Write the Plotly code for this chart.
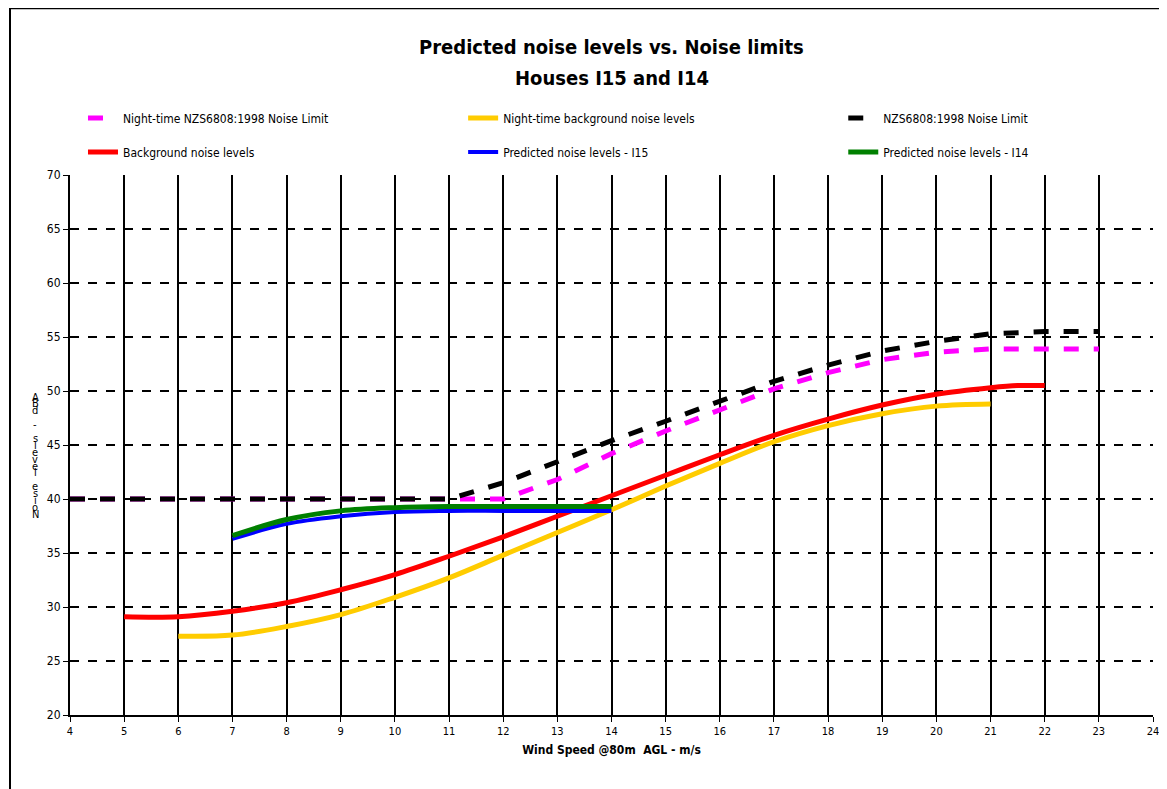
import plotly.graph_objects as go

x_limit = list(range(4, 24))
night_limit = [40,40,40,40,40,40,40,40,40,41.8,44.2,46.3,48.3,50.2,51.7,52.9,53.6,53.9,53.9,53.9]
nzs_limit = [40,40,40,40,40,40,40,40,41.5,43.5,45.4,47.2,49.1,50.9,52.4,53.7,54.6,55.3,55.5,55.5]
x_bg = [5,6,7,8,9,10,11,12,13,14,15,16,17,18,19,20,21,21.5,22]
bg = [29.1,29.1,29.6,30.4,31.6,33.0,34.7,36.5,38.4,40.3,42.2,44.1,45.9,47.4,48.7,49.7,50.3,50.5,50.5]
x_nbg = list(range(6, 22))
night_bg = [27.3,27.4,28.2,29.3,30.9,32.7,34.8,36.9,39.0,41.2,43.3,45.3,46.8,47.9,48.6,48.8]
x_pred = list(range(7, 15))
pred_i15 = [36.3,37.7,38.4,38.8,38.9,38.9,38.9,38.9]
pred_i14 = [36.6,38.1,38.9,39.2,39.3,39.3,39.3,39.3]

F = "DejaVu Sans Condensed, DejaVu Sans"
series = [
    ("Night-time NZS6808:1998 Noise Limit", x_limit, night_limit, dict(color="#ff00ff", width=5, dash="dash")),
    ("Night-time background noise levels", x_nbg, night_bg, dict(color="#ffcc00", width=5, shape="spline")),
    ("NZS6808:1998 Noise Limit", x_limit, nzs_limit, dict(color="black", width=5, dash="dash")),
    ("Background noise levels", x_bg, bg, dict(color="#ff0000", width=5, shape="spline")),
    ("Predicted noise levels - I15", x_pred, pred_i15, dict(color="#0000ff", width=4, shape="spline")),
    ("Predicted noise levels - I14", x_pred, pred_i14, dict(color="#008000", width=5, shape="spline")),
]
legend_pos = [(0.012, 1.1056), (0.363, 1.1056), (0.714, 1.1056),
              (0.012, 1.0426), (0.363, 1.0426), (0.714, 1.0426)]

fig = go.Figure()
layout_legends = {}
for i, (name, xs, ys, ln) in enumerate(series):
    key = "legend" if i == 0 else f"legend{i+1}"
    fig.add_trace(go.Scatter(x=xs, y=ys, name=name, mode="lines", line=ln, legend=key))
    lx, ly = legend_pos[i]
    layout_legends[key] = dict(x=lx, y=ly, xanchor="left", yanchor="middle", bgcolor="rgba(0,0,0,0)",
                               font=dict(size=12, family=F), itemwidth=30)

fig.update_layout(
    width=1167, height=789, paper_bgcolor="white", plot_bgcolor="white",
    margin=dict(l=62, r=22, t=167, b=82, autoexpand=False),
    font=dict(family=F, size=12, color="black"),
    xaxis=dict(range=[4, 24], dtick=1, tick0=4, showgrid=True, gridcolor="black", gridwidth=2,
               showline=True, linecolor="black", linewidth=2, ticks="outside",
               ticklen=5, tickcolor="black", zeroline=False, tickfont=dict(size=11),
               title=dict(text="<b>Wind Speed @80m  AGL - m/s</b>", font=dict(size=12), standoff=8)),
    yaxis=dict(range=[20, 70], dtick=5, showgrid=True, gridcolor="black", gridwidth=1.5,
               griddash="dash", showline=True, linecolor="black", linewidth=2, ticks="outside",
               ticklen=5, tickcolor="black", zeroline=False, tickfont=dict(size=12)),
    showlegend=True,
    **layout_legends,
)
fig.add_annotation(text="<b>Predicted noise levels vs. Noise limits</b>", xref="paper", yref="paper",
                   x=0.5, y=(715-47)/540, showarrow=False, font=dict(size=20, family=F), yanchor="middle")
fig.add_annotation(text="<b>Houses I15 and I14</b>", xref="paper", yref="paper",
                   x=0.5, y=(715-78)/540, showarrow=False, font=dict(size=20, family=F), yanchor="middle")
for k, ch in enumerate("ABd - slevel esioN"):
    if ch == " ":
        continue
    fig.add_annotation(text=ch, xref="paper", yref="paper", x=(35-70)/1083, y=(715-(397+k*6.9))/540,
                       showarrow=False, font=dict(size=11, family=F), xanchor="center", yanchor="middle")
fig.add_shape(type="line", xref="paper", yref="paper", x0=-0.0554, x1=-0.0554, y0=-0.2, y1=1.31,
              line=dict(color="black", width=2))
fig.add_shape(type="line", xref="paper", yref="paper", x0=-0.0554, x1=1.03, y0=1.309, y1=1.309,
              line=dict(color="black", width=2))
fig.write_html("out.html")
